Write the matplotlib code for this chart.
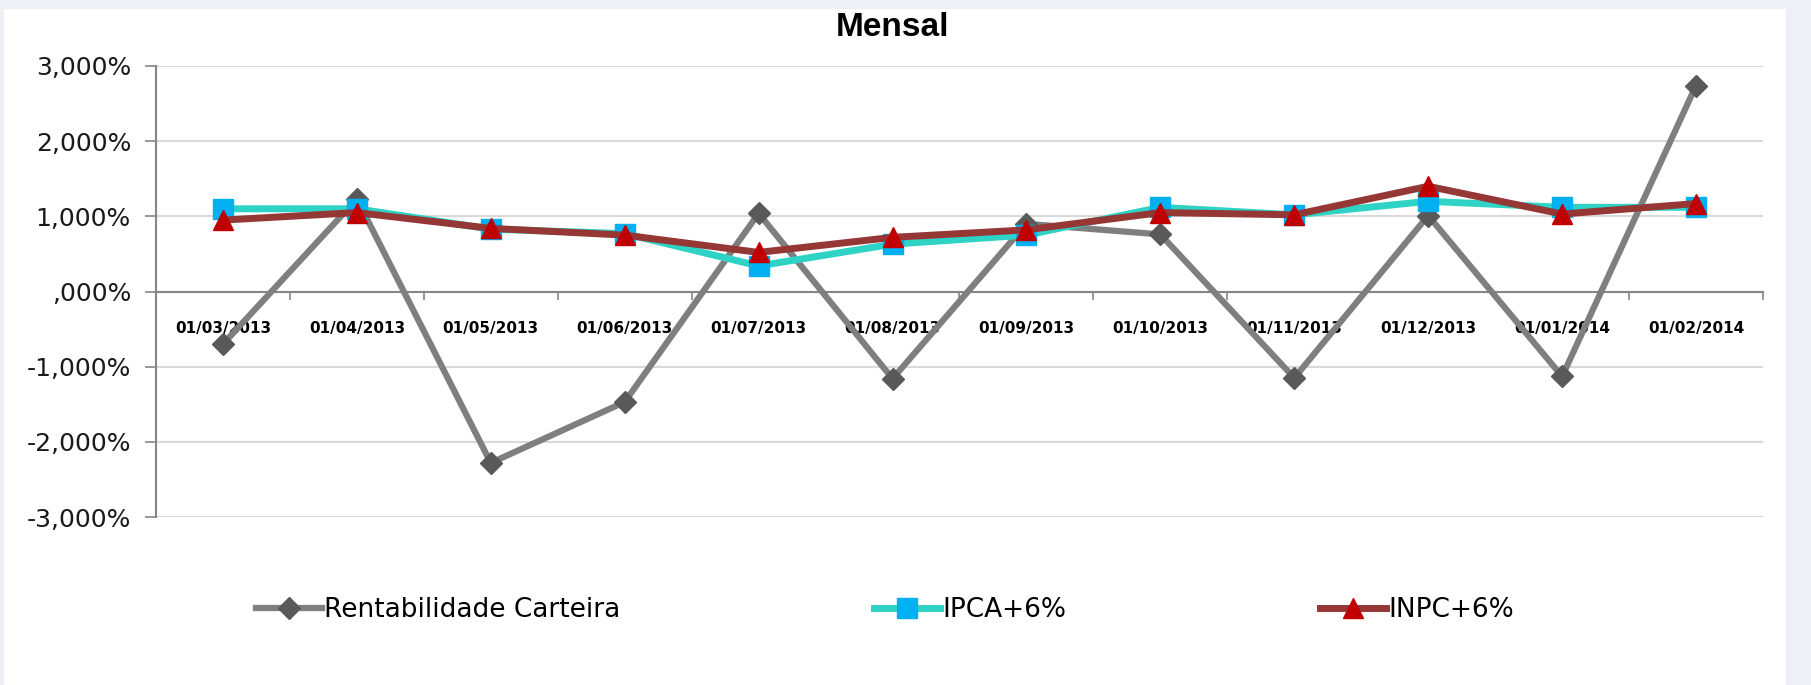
import matplotlib
matplotlib.use("Agg")
import matplotlib.pyplot as plt
from matplotlib.patches import Rectangle
from matplotlib.ticker import FuncFormatter, FixedLocator

# dados (em %)
datas = ["01/03/2013", "01/04/2013", "01/05/2013", "01/06/2013", "01/07/2013", "01/08/2013",
         "01/09/2013", "01/10/2013", "01/11/2013", "01/12/2013", "01/01/2014", "01/02/2014"]
rentabilidade = [-0.70, 1.23, -2.28, -1.47, 1.04, -1.16, 0.90, 0.76, -1.15, 1.01, -1.13, 2.74]
ipca6 = [1.10, 1.10, 0.83, 0.77, 0.34, 0.63, 0.75, 1.12, 1.02, 1.20, 1.12, 1.12]
inpc6 = [0.95, 1.05, 0.84, 0.75, 0.52, 0.72, 0.82, 1.05, 1.02, 1.40, 1.03, 1.17]
yticks = [-3, -2, -1, 0, 1, 2, 3]


def fmt_pct(v, pos=None):
    s = f"{abs(v):.3f}".replace(".", ",")
    if s.startswith("0"):
        s = s[1:]
    return ("-" if v < 0 else "") + s + "%"


fig = plt.figure(figsize=(18.11, 6.85), dpi=100)
fig.patch.set_facecolor("#EEF0F5")
fundo = Rectangle((4 / 1811, 0), 1782 / 1811, 1 - 9 / 685, transform=fig.transFigure,
                  facecolor="white", edgecolor="none", zorder=-10)
fig.add_artist(fundo)

ax = fig.add_axes([156 / 1811, 1 - 517 / 685, (1763 - 156) / 1811, (517 - 66) / 685])
ax.set_facecolor("none")
ax.set_zorder(1)

x = list(range(len(datas)))
ax.plot(x, rentabilidade, color="#7F7F7F", lw=4.5, marker="D", ms=11,
        mfc="#595959", mec="#595959", label="Rentabilidade Carteira", zorder=3)
ax.plot(x, ipca6, color="#2ED3C6", lw=5, marker="s", ms=14,
        mfc="#00B0F0", mec="#00B0F0", label="IPCA+6%", zorder=4)
ax.plot(x, inpc6, color="#953735", lw=5, marker="^", ms=15,
        mfc="#C00000", mec="#C00000", label="INPC+6%", zorder=5)

ax.set_xlim(-0.5, len(datas) - 0.5)
ax.set_ylim(-3, 3)
ax.set_yticks(yticks)
ax.yaxis.set_major_formatter(FuncFormatter(fmt_pct))
ax.grid(axis="y", color="#D9D9D9", lw=1.5, zorder=0)
ax.set_axisbelow(True)

for s in ["top", "right"]:
    ax.spines[s].set_visible(False)
ax.spines["left"].set_color("#868686")
ax.spines["left"].set_linewidth(1.5)
ax.spines["bottom"].set_position(("data", 0))
ax.spines["bottom"].set_color("#868686")
ax.spines["bottom"].set_linewidth(1.5)

ax.tick_params(axis="y", direction="out", length=8, width=1.2, color="#868686",
               labelsize=18, labelcolor="#1a1a1a", pad=10)

ax.xaxis.set_major_locator(FixedLocator([i - 0.5 for i in range(len(datas) + 1)]))
ax.xaxis.set_major_formatter(FuncFormatter(lambda v, p: ""))
ax.xaxis.set_minor_locator(FixedLocator(x))
ax.set_xticks(x, datas, minor=True)
ax.tick_params(axis="x", which="major", direction="out", length=6, width=1.2, color="#868686")
ax.tick_params(axis="x", which="minor", length=0, pad=21, labelsize=11)
for t in ax.get_xticklabels(minor=True):
    t.set_fontweight("bold")

fig.text(0.493, 1 - 27 / 685, "Mensal", ha="center", va="center", fontsize=24,
         fontweight="bold", family=["Liberation Sans", "DejaVu Sans"])

leg = fig.legend(loc="center", bbox_to_anchor=(885 / 1811, 1 - 610 / 685), ncol=3,
                 frameon=False, handlelength=2.5, handletextpad=0.1,
                 columnspacing=9.6, prop={"size": 19})

fig.savefig("out.png", dpi=100, facecolor=fig.get_facecolor())
